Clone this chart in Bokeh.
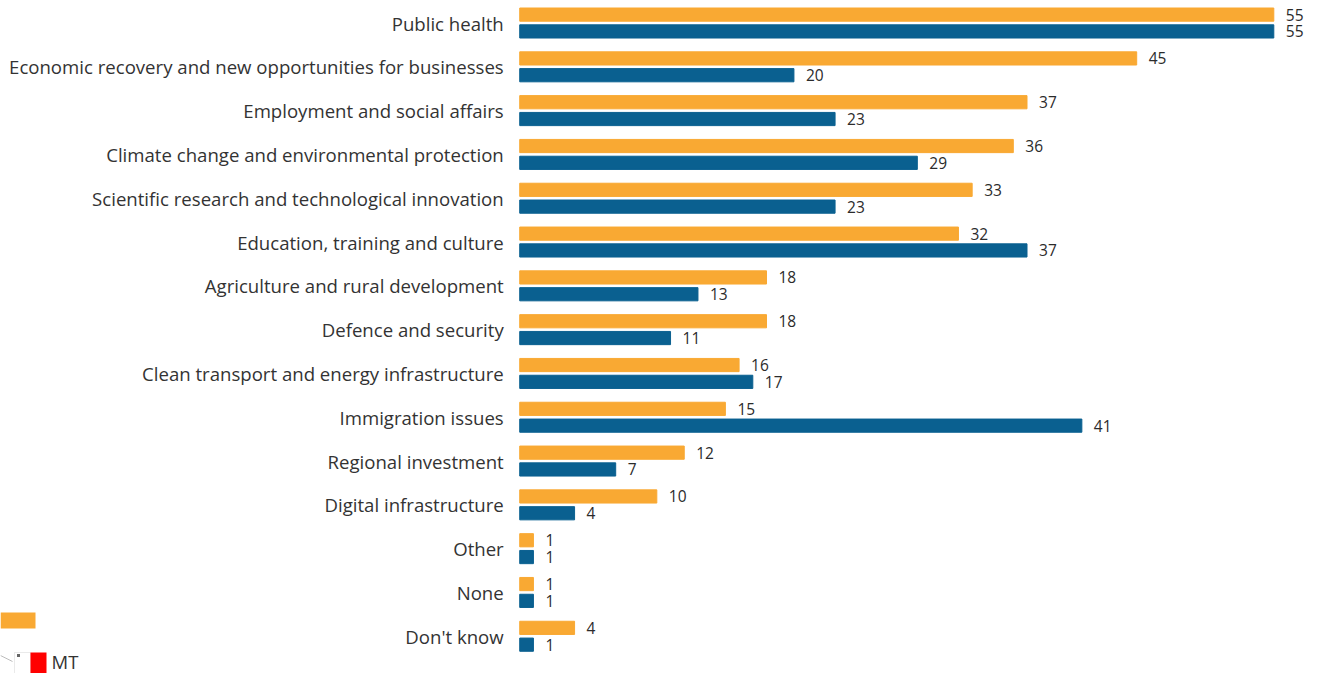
from bokeh.plotting import figure
from bokeh.models import (ColumnDataSource, FixedTicker, Range1d, BoxAnnotation,
                          PolyAnnotation, Label)
from bokeh.core.properties import value
from bokeh.embed import file_html
from bokeh.resources import INLINE

categories = ["Public health", "Economic recovery and new opportunities for businesses",
              "Employment and social affairs", "Climate change and environmental protection",
              "Scientific research and technological innovation", "Education, training and culture",
              "Agriculture and rural development", "Defence and security",
              "Clean transport and energy infrastructure", "Immigration issues",
              "Regional investment", "Digital infrastructure", "Other", "None", "Don't know"]
series_orange = [55, 45, 37, 36, 33, 32, 18, 18, 16, 15, 12, 10, 1, 1, 4]
series_blue = [55, 20, 23, 29, 23, 37, 13, 11, 17, 41, 7, 4, 1, 1, 1]

ORANGE = "#F9A933"
BLUE = "#0A6090"
FONT = "Open Sans"
PITCH = 43.8
BAR_H = 13.2 / PITCH
OFFSET = 8.4 / PITCH

rows = list(range(len(categories)))
p = figure(width=1318, height=673, output_backend="svg", toolbar_location=None,
           x_range=Range1d(-37.87, 58.26), y_range=Range1d(14.85, -0.514),
           min_border_left=0, min_border_right=0, min_border_top=0, min_border_bottom=0,
           x_axis_location=None, background_fill_color="white", border_fill_color="white",
           outline_line_color=None)
p.grid.visible = False

for vals, shift, color in ((series_orange, -OFFSET, ORANGE), (series_blue, OFFSET, BLUE)):
    src = ColumnDataSource(dict(y=[r + shift for r in rows], v=vals, t=[str(v) for v in vals]))
    p.hbar(y="y", left=0, right="v", height=BAR_H, color=color, source=src)
    p.text(x="v", y="y", text="t", x_offset=12, text_baseline="middle", text_font=value(FONT),
           text_font_size="15.5px", text_color="#2b2b2b", source=src)

ax = p.yaxis[0]
ax.fixed_location = 0
ax.ticker = FixedTicker(ticks=rows)
ax.major_label_overrides = {r: c for r, c in zip(rows, categories)}
ax.axis_line_color = None
ax.major_tick_line_color = None
ax.minor_tick_line_color = None
ax.major_tick_out = 0
ax.major_tick_in = 0
ax.major_label_standoff = 16
ax.major_label_text_font = FONT
ax.major_label_text_font_size = "18.6px"
ax.major_label_text_color = "#333333"


def box(left, right, top, bottom, fill, line=None):
    p.add_layout(BoxAnnotation(left=left, right=right, top=top, bottom=bottom,
                               left_units="screen", right_units="screen",
                               top_units="screen", bottom_units="screen",
                               fill_color=fill, fill_alpha=1, line_color=line, line_width=1,
                               level="overlay"))


# clipped legend and map fragment at the lower left of the source picture
box(0, 35, 61, 45, ORANGE)
box(14, 30, 21, 0, "white", "#bbbbbb")
box(30, 46, 21, 0, "#FF0000")
box(16.5, 19.5, 19.5, 16.5, "#666666")
p.add_layout(PolyAnnotation(xs=[0, 12], ys=[18, 12], xs_units="screen", ys_units="screen",
                            fill_alpha=0, line_color="#222222", line_width=1, level="overlay"))
p.add_layout(Label(x=51, y=12, x_units="screen", y_units="screen", text="MT", text_font=FONT,
                   text_font_size="18.5px", text_color="#333333", text_baseline="middle", level="overlay"))

open("out.html", "w").write(file_html(p, INLINE))
